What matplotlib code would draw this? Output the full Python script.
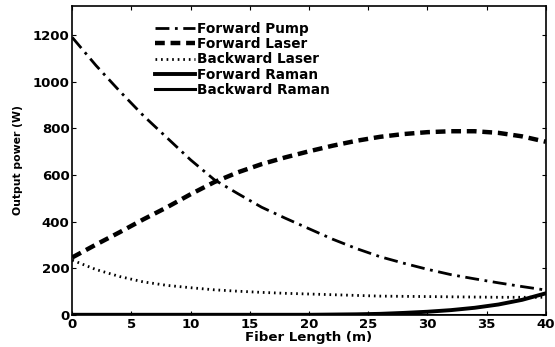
import matplotlib
matplotlib.use("Agg")
import matplotlib.pyplot as plt

plt.rcParams['font.family'] = ['DejaVu Sans']
plt.rcParams['font.weight'] = 'bold'

x = [0, 2, 4, 6, 8, 10, 12, 14, 16, 18, 20, 22, 24, 26, 28, 30, 32, 34, 36, 38, 40]
forward_pump = [1190, 1070, 960, 855, 760, 665, 580, 520, 462, 415, 370, 325, 285, 250, 222, 196, 173, 155, 138, 122, 107]
forward_laser = [247, 302, 355, 410, 462, 518, 570, 612, 647, 676, 702, 726, 747, 764, 776, 784, 788, 788, 781, 766, 743]
backward_laser = [235, 195, 165, 142, 127, 117, 108, 102, 97, 93, 90, 87, 84, 81, 80, 79, 78, 77, 76, 76, 76]
forward_raman = [1, 1, 1, 1, 1, 1, 1, 1, 1, 1, 1, 2, 3, 5, 9, 14, 21, 31, 45, 65, 93]
backward_raman = [0.5] * 21

xticks = [0, 5, 10, 15, 20, 25, 30, 35, 40]
yticks = [0, 200, 400, 600, 800, 1000, 1200]

fig = plt.figure(figsize=(5.55, 3.47), dpi=100)
ax = fig.add_axes([0.1303, 0.0922, 0.8530, 0.8905])

ax.plot(x, forward_pump, color='black', lw=2.0, linestyle=(0, (5, 2, 1, 2)), label='Forward Pump')
ax.plot(x, forward_laser, color='black', lw=3.2, linestyle=(0, (2.2, 1.3)), label='Forward Laser')
ax.plot(x, backward_laser, color='black', lw=2.0, linestyle=(0, (0.6, 1.4)), label='Backward Laser')
ax.plot(x, forward_raman, color='black', lw=2.8, linestyle='-', label='Forward Raman')
ax.plot(x, backward_raman, color='black', lw=2.2, linestyle='-', label='Backward Raman')

ax.set_xlim(0, 40)
ax.set_ylim(0, 1325)
ax.set_xticks(xticks)
ax.set_yticks(yticks)
ax.tick_params(direction='in', top=True, right=True, length=3, width=0.8,
               labelsize=9.5, pad=2)
for lab in ax.get_xticklabels() + ax.get_yticklabels():
    lab.set_fontweight('bold')
for s in ax.spines.values():
    s.set_linewidth(1.2)

ax.set_xlabel('Fiber Length (m)', fontsize=9.6, fontweight='bold', labelpad=0.5)
ax.set_ylabel('Output power (W)', fontsize=7.8, fontweight='bold', labelpad=7)

leg = ax.legend(loc='upper left', bbox_to_anchor=(0.175, 0.948), frameon=False,
                fontsize=9.8, handlelength=2.9, handletextpad=0.15,
                labelspacing=0.085, borderaxespad=0, borderpad=0)
for t in leg.get_texts():
    t.set_fontweight('bold')

fig.savefig('out.png', dpi=100)
